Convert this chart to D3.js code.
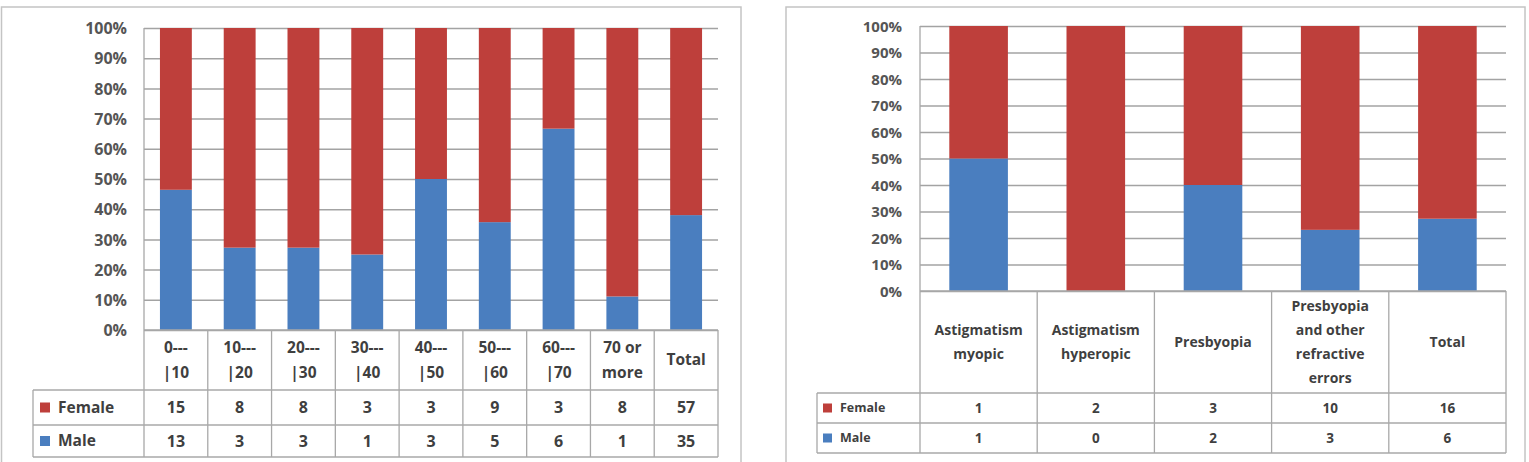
<!DOCTYPE html>
<html>
<head>
<meta charset="utf-8">
<script src="https://cdn.jsdelivr.net/npm/d3@7"></script>
<style>
  html, body { margin: 0; padding: 0; background: #ffffff; }
  svg { display: block; }
  text { font-family: "Open Sans", "Lato", sans-serif; font-weight: 700; }
</style>
</head>
<body>
<svg id="chart" width="1529" height="462"></svg>
<script>
// ---------- DATA ----------
const seriesNames = ["Female", "Male"];

const ageCategories = ["0---\n|10", "10---\n|20", "20---\n|30", "30---\n|40", "40---\n|50",
                       "50---\n|60", "60---\n|70", "70 or\nmore", "Total"];
const ageFemale = [15, 8, 8, 3, 3, 9, 3, 8, 57];
const ageMale   = [13, 3, 3, 1, 3, 5, 6, 1, 35];

const errorCategories = ["Astigmatism\nmyopic", "Astigmatism\nhyperopic", "Presbyopia",
                         "Presbyopia\nand other\nrefractive\nerrors", "Total"];
const errorFemale = [1, 2, 3, 10, 16];
const errorMale   = [1, 0, 2, 3, 6];

const percentTicks = [0, 0.1, 0.2, 0.3, 0.4, 0.5, 0.6, 0.7, 0.8, 0.9, 1.0];

// ---------- STYLE ----------
const colors = { Female: "#BE3F3B", Male: "#4A7EBF" };
const gridColor = "#a3a3a3";
const tableColor = "#a8a8a8";
const textColor = "#3f3f3f";
const axisTextColor = "#555555";

const svg = d3.select("#chart");

function drawPanel(cfg) {
  const g = svg.append("g");

  // panel frame
  g.append("rect")
    .attr("x", cfg.frame[0]).attr("y", cfg.frame[1])
    .attr("width", cfg.frame[2]).attr("height", cfg.frame[3])
    .attr("fill", "#fff").attr("stroke", "#c4c4c4").attr("stroke-width", 1.5);

  const rows = cfg.categories.map((c, i) => ({ cat: c, Female: cfg.female[i], Male: cfg.male[i] }));

  const x = d3.scaleBand()
    .domain(cfg.categories)
    .range([cfg.left, cfg.right])
    .paddingInner(0.5)
    .paddingOuter(0.25);

  const y = d3.scaleLinear().domain([0, 1]).range([cfg.zero, cfg.top]);

  // gridlines + y labels via axis
  const yAxis = d3.axisLeft(y)
    .tickValues(percentTicks)
    .tickFormat(d3.format(".0%"))
    .tickSize(-(cfg.right - cfg.left))
    .tickPadding(cfg.labelGap);

  const ax = g.append("g")
    .attr("transform", `translate(${cfg.left},0)`)
    .call(yAxis);
  ax.select(".domain").remove();
  ax.selectAll(".tick line").attr("stroke", gridColor).attr("stroke-width", 1.5);
  ax.selectAll(".tick text")
    .attr("fill", axisTextColor)
    .style("font-size", cfg.axisFont + "px")
    .attr("dy", "0.35em");

  // stacked bars (percent)
  const stack = d3.stack().keys(["Male", "Female"]).offset(d3.stackOffsetExpand);
  const layers = stack(rows);

  g.append("g").selectAll("g")
    .data(layers)
    .join("g")
    .attr("fill", d => colors[d.key])
    .selectAll("rect")
    .data(d => d)
    .join("rect")
    .attr("x", d => x(d.data.cat))
    .attr("width", x.bandwidth())
    .attr("y", d => y(d[1]))
    .attr("height", d => Math.max(0, y(d[0]) - y(d[1])));

  // vertical axis line
  g.append("line")
    .attr("x1", cfg.left).attr("x2", cfg.left)
    .attr("y1", cfg.top).attr("y2", cfg.maleBottom)
    .attr("stroke", tableColor).attr("stroke-width", 1.3);

  // ---------- data table ----------
  const step = x.step();
  const colLeft = c => x(c) - (step - x.bandwidth()) / 2;
  const tg = g.append("g");

  const hLines = [
    { y: cfg.zero, x1: cfg.left },
    { y: cfg.headerBottom, x1: cfg.legendLeft },
    { y: cfg.femaleBottom, x1: cfg.legendLeft },
    { y: cfg.maleBottom, x1: cfg.legendLeft }
  ];
  tg.selectAll("line.h").data(hLines).join("line")
    .attr("x1", d => d.x1).attr("x2", cfg.right)
    .attr("y1", d => d.y).attr("y2", d => d.y)
    .attr("stroke", tableColor).attr("stroke-width", 1.3);

  const vx = cfg.categories.map(c => colLeft(c) + step);
  tg.selectAll("line.v").data(vx).join("line")
    .attr("x1", d => d).attr("x2", d => d)
    .attr("y1", cfg.zero).attr("y2", cfg.maleBottom)
    .attr("stroke", tableColor).attr("stroke-width", 1.3);
  tg.append("line")
    .attr("x1", cfg.legendLeft).attr("x2", cfg.legendLeft)
    .attr("y1", cfg.headerBottom).attr("y2", cfg.maleBottom)
    .attr("stroke", tableColor).attr("stroke-width", 1.3);

  // header labels
  const hdr = tg.selectAll("text.hdr").data(cfg.categories).join("text")
    .attr("class", "hdr")
    .attr("text-anchor", "middle")
    .attr("fill", textColor)
    .style("font-size", cfg.headerFont + "px");
  hdr.each(function (c) {
    const lines = c.split("\n");
    const cx = x(c) + x.bandwidth() / 2;
    const cy = (cfg.zero + cfg.headerBottom) / 2;
    const start = cy - (lines.length - 1) * cfg.lineH / 2;
    d3.select(this).selectAll("tspan").data(lines).join("tspan")
      .attr("x", cx)
      .attr("y", (d, i) => start + i * cfg.lineH)
      .attr("dy", "0.35em")
      .text(d => d);
  });

  // value rows
  const rowDefs = [
    { name: "Female", vals: cfg.female, top: cfg.headerBottom, bottom: cfg.femaleBottom },
    { name: "Male", vals: cfg.male, top: cfg.femaleBottom, bottom: cfg.maleBottom }
  ];
  rowDefs.forEach(r => {
    const cy = (r.top + r.bottom) / 2;
    tg.append("rect")
      .attr("x", cfg.legendLeft + cfg.swatchOff)
      .attr("y", cy - cfg.swatch / 2)
      .attr("width", cfg.swatch).attr("height", cfg.swatch)
      .attr("fill", colors[r.name]);
    tg.append("text")
      .attr("x", cfg.legendLeft + cfg.swatchOff + cfg.swatch + cfg.legendGap)
      .attr("y", cy).attr("dy", "0.35em")
      .attr("fill", textColor)
      .style("font-size", cfg.legendFont + "px")
      .text(r.name);
    tg.selectAll(null).data(r.vals).join("text")
      .attr("x", (d, i) => x(cfg.categories[i]) + x.bandwidth() / 2)
      .attr("y", cy).attr("dy", "0.35em")
      .attr("text-anchor", "middle")
      .attr("fill", textColor)
      .style("font-size", cfg.valueFont + "px")
      .text(d => d);
  });
}

drawPanel({
  categories: ageCategories, female: ageFemale, male: ageMale,
  frame: [1.5, 7, 739.5, 470],
  left: 144, right: 718, top: 28, zero: 330,
  headerBottom: 390, femaleBottom: 425, maleBottom: 457,
  legendLeft: 33, labelGap: 17,
  axisFont: 16, headerFont: 15.5, valueFont: 16, legendFont: 15.5, lineH: 25,
  swatch: 10, swatchOff: 7, legendGap: 8
});

drawPanel({
  categories: errorCategories, female: errorFemale, male: errorMale,
  frame: [786, 7, 739, 470],
  left: 920, right: 1506, top: 26, zero: 291,
  headerBottom: 393, femaleBottom: 423, maleBottom: 453,
  legendLeft: 817, labelGap: 18,
  axisFont: 15, headerFont: 14, valueFont: 13.5, legendFont: 12.5, lineH: 24,
  swatch: 9, swatchOff: 6, legendGap: 8
});
</script>
</body>
</html>
